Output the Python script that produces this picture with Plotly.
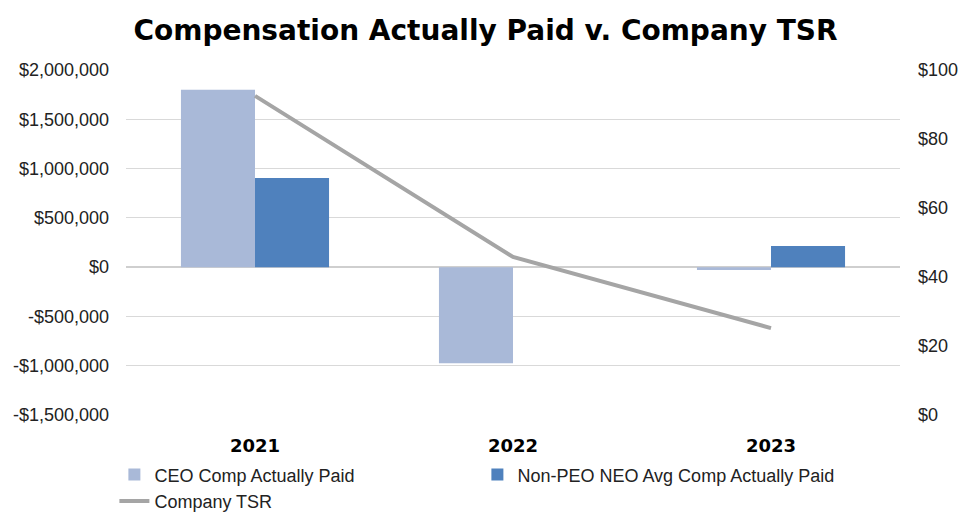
import plotly.graph_objects as go

years = ["2021", "2022", "2023"]
ceo_cap = [1800000, -975000, -30000]
neo_cap = [905000, 0, 215000]
tsr = [92.5, 45.8, 25.2]

left_ticks = [2000000, 1500000, 1000000, 500000, 0, -500000, -1000000, -1500000]
left_labels = ["$2,000,000", "$1,500,000", "$1,000,000", "$500,000", "$0",
               "-$500,000", "-$1,000,000", "-$1,500,000"]
right_ticks = [0, 20, 40, 60, 80, 100]
right_labels = ["$0", "$20", "$40", "$60", "$80", "$100"]

fig = go.Figure()
fig.add_trace(go.Bar(x=years, y=ceo_cap, name="CEO Comp Actually Paid",
                     marker=dict(color="#a9b9d8", line=dict(width=0))))
fig.add_trace(go.Bar(x=years, y=neo_cap, name="Non-PEO NEO Avg Comp Actually Paid",
                     marker=dict(color="#4f81bd", line=dict(width=0))))
fig.add_trace(go.Scatter(x=years, y=tsr, name="Company TSR", yaxis="y2",
                         mode="lines", line=dict(color="#a5a5a5", width=4)))

fig.update_layout(
    width=971, height=524,
    paper_bgcolor="white", plot_bgcolor="white",
    margin=dict(l=126, r=71, t=70, b=109, autoexpand=False),
    barmode="group", bargap=0.426, bargroupgap=0,
    title=dict(text="<b>Compensation Actually Paid v. Company TSR</b>",
               x=0.5, xanchor="center", y=0.943, yanchor="middle",
               font=dict(family="DejaVu Sans", size=28, color="black")),
    font=dict(family="Liberation Sans", size=18, color="#222222"),
    xaxis=dict(type="category", showgrid=False, showline=False, ticks="",
               tickfont=dict(family="DejaVu Sans", size=18, color="black"),
               tickprefix="<b>", ticksuffix="</b>", ticklabelstandoff=18),
    yaxis=dict(range=[-1500000, 2000000], tickvals=left_ticks, ticktext=left_labels,
               showgrid=True, gridcolor="#d9d9d9", gridwidth=1,
               zeroline=True, zerolinecolor="#cfcfcf", zerolinewidth=2,
               showline=False, ticks="", ticklabelstandoff=16,
               tickfont=dict(family="Liberation Sans", size=18, color="#222222")),
    yaxis2=dict(range=[0, 100], tickvals=right_ticks, ticktext=right_labels,
                overlaying="y", side="right", showgrid=False, zeroline=False,
                showline=False, ticks="", ticklabelstandoff=17,
                tickfont=dict(family="Liberation Sans", size=18, color="#222222")),
    legend=dict(orientation="h", x=-0.015, xanchor="left", y=-0.12, yanchor="top",
                entrywidth=318, entrywidthmode="pixels",
                font=dict(family="Liberation Sans", size=18, color="#222222"),
                itemwidth=30, tracegroupgap=0),
)

fig.write_html("out.html", config={"displayModeBar": False},
               post_script="document.body.style.margin='0';")
